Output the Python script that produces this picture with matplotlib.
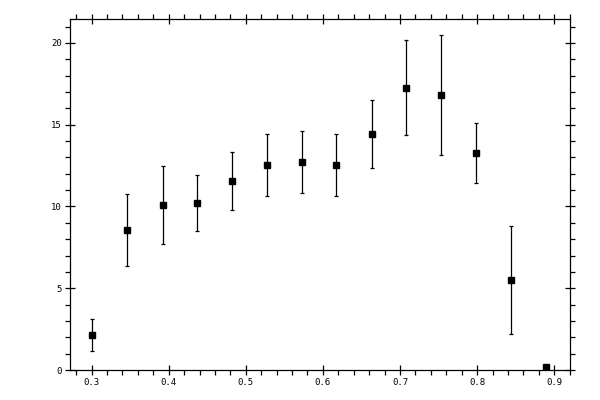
import matplotlib
matplotlib.use('Agg')
import matplotlib.pyplot as plt
from matplotlib.ticker import MultipleLocator, FormatStrFormatter

# data
x = [0.300, 0.346, 0.392, 0.437, 0.482, 0.528, 0.573, 0.617, 0.663, 0.708, 0.753, 0.799, 0.844, 0.889]
y = [2.12, 8.55, 10.08, 10.21, 11.55, 12.53, 12.72, 12.53, 14.43, 17.25, 16.82, 13.27, 5.53, 0.18]
err = [0.97, 2.2, 2.4, 1.72, 1.78, 1.87, 1.9, 1.87, 2.1, 2.9, 3.65, 1.83, 3.3, 0.0]

fig = plt.figure(figsize=(6, 4), dpi=100)
ax = fig.add_axes([0.116, 0.075, 0.8345, 0.877])

ax.errorbar(x, y, yerr=err, fmt='s', color='black', markersize=5,
            elinewidth=0.9, capsize=1.6, capthick=0.9, clip_on=True)

ax.set_xlim(0.2715, 0.9208)
ax.set_ylim(0, 21.45)

ax.xaxis.set_major_locator(MultipleLocator(0.1))
ax.xaxis.set_minor_locator(MultipleLocator(0.02))
ax.yaxis.set_major_locator(MultipleLocator(5))
ax.yaxis.set_minor_locator(MultipleLocator(1))
ax.xaxis.set_major_formatter(FormatStrFormatter('%.1f'))
ax.yaxis.set_major_formatter(FormatStrFormatter('%d'))

ax.tick_params(which='major', direction='inout', length=7, width=0.9,
               top=True, right=True, labelsize=6.5, pad=2)
ax.tick_params(which='minor', direction='out', length=3.5, width=0.9,
               top=True, right=True)
for lab in ax.get_xticklabels() + ax.get_yticklabels():
    lab.set_family('DejaVu Sans Mono')

for s in ax.spines.values():
    s.set_linewidth(0.9)

fig.savefig('out.png', dpi=100)
